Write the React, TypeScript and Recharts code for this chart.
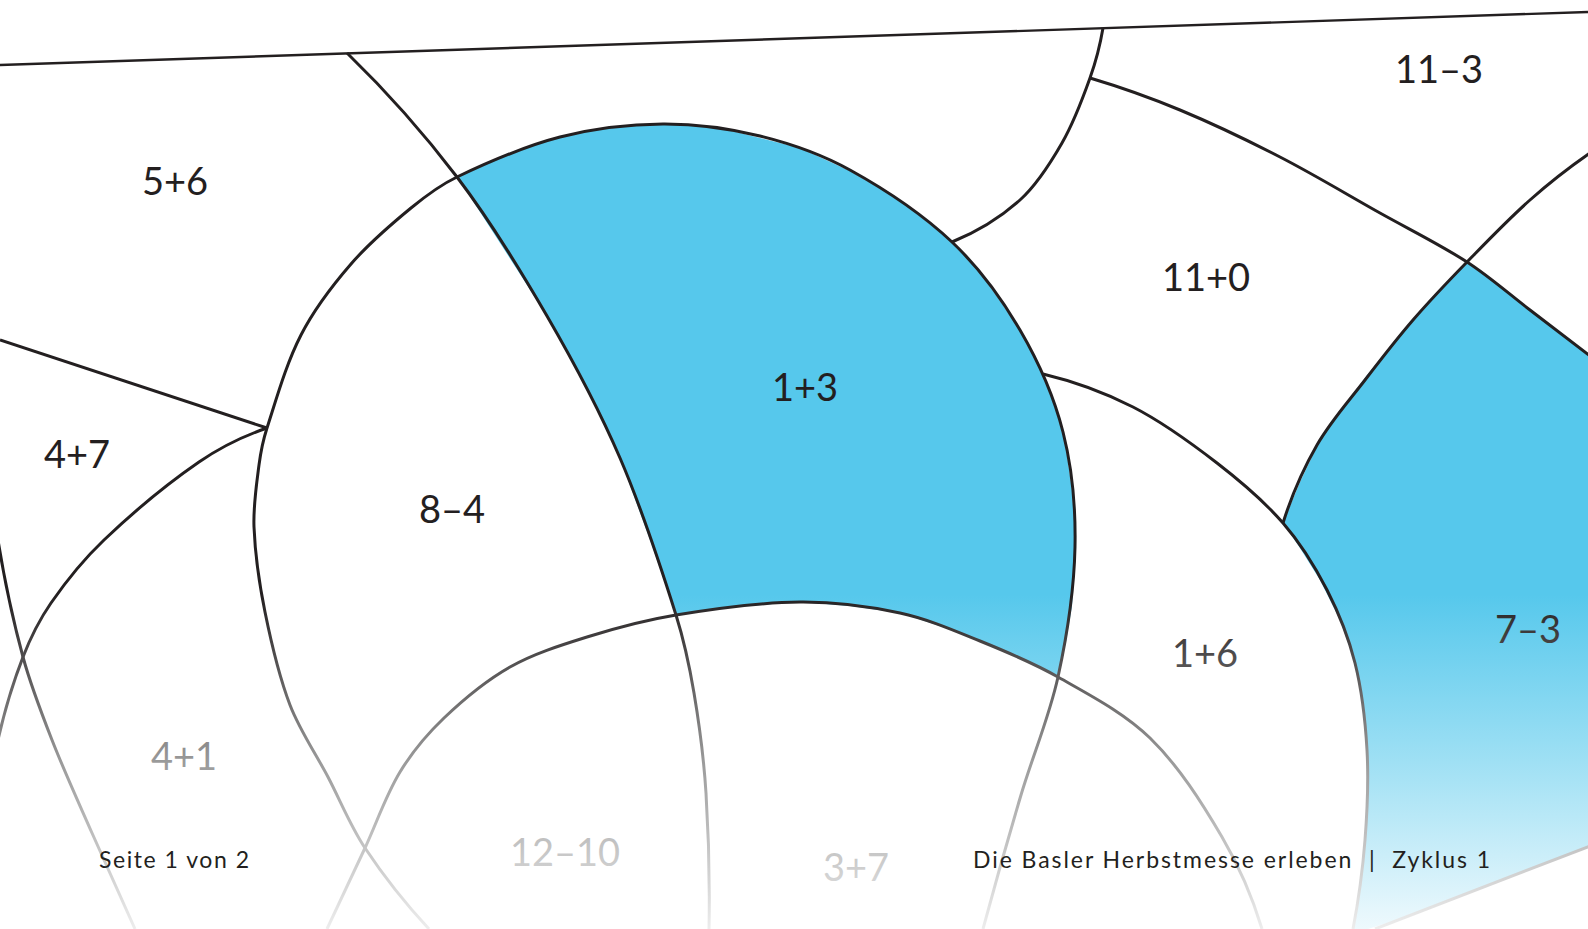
import React from "react";
import { ComposedChart, XAxis, YAxis, Line, Area, Scatter } from "recharts";

const W = 1588;
const H = 929;

const INK = "#231f20";
const BLUE = "#56c8ec";

// outlines in pixel units (x right, y down)
const topEdge = [
  { x: 0, y: 65 },
  { x: 1588, y: 12 },
];
const curveA = [
  { x: 347, y: 53 },
  { x: 457, y: 177 },
  { x: 547, y: 316 },
  { x: 620, y: 458 },
  { x: 676, y: 615 },
  { x: 694, y: 693 },
  { x: 706, y: 793 },
  { x: 709, y: 929 },
];
const bigCircle = [
  { x: 429, y: 929 },
  { x: 365, y: 848 },
  { x: 328, y: 777 },
  { x: 290, y: 705 },
  { x: 265, y: 612 },
  { x: 254, y: 527 },
  { x: 259, y: 465 },
  { x: 267, y: 428 },
  { x: 301, y: 335 },
  { x: 351, y: 264 },
  { x: 411, y: 208 },
  { x: 457, y: 177 },
  { x: 560, y: 137 },
  { x: 663, y: 124 },
  { x: 760, y: 136 },
  { x: 850, y: 170 },
  { x: 952, y: 242 },
  { x: 1020, y: 330 },
  { x: 1063, y: 432 },
  { x: 1075, y: 547 },
  { x: 1058, y: 677 },
  { x: 1021, y: 795 },
  { x: 983, y: 929 },
];
const lowerCircle = [
  { x: 327, y: 929 },
  { x: 365, y: 848 },
  { x: 400, y: 772 },
  { x: 444, y: 718 },
  { x: 510, y: 667 },
  { x: 587, y: 637 },
  { x: 676, y: 615 },
  { x: 800, y: 602 },
  { x: 900, y: 613 },
  { x: 980, y: 641 },
  { x: 1058, y: 677 },
  { x: 1150, y: 738 },
  { x: 1222, y: 837 },
  { x: 1262, y: 929 },
];
const curveB = [
  { x: 1103, y: 28 },
  { x: 1090, y: 78 },
  { x: 1062, y: 143 },
  { x: 1020, y: 200 },
  { x: 952, y: 242 },
];
const curveC = [
  { x: 1090, y: 78 },
  { x: 1180, y: 110 },
  { x: 1280, y: 157 },
  { x: 1380, y: 213 },
  { x: 1467, y: 262 },
  { x: 1530, y: 310 },
  { x: 1590, y: 356 },
];
const curveD = [
  { x: 1590, y: 153 },
  { x: 1530, y: 200 },
  { x: 1467, y: 262 },
  { x: 1413, y: 320 },
  { x: 1365, y: 380 },
  { x: 1317, y: 445 },
  { x: 1283, y: 523 },
];
const curveE = [
  { x: 1043, y: 374 },
  { x: 1133, y: 407 },
  { x: 1217, y: 463 },
  { x: 1283, y: 523 },
  { x: 1327, y: 590 },
  { x: 1355, y: 663 },
  { x: 1367, y: 750 },
  { x: 1365, y: 840 },
  { x: 1353, y: 929 },
];
const edge9 = [
  { x: 1375, y: 929 },
  { x: 1590, y: 846 },
];
const edge11 = [
  { x: 0, y: 340 },
  { x: 267, y: 428 },
];
const curveF = [
  { x: 267, y: 428 },
  { x: 199, y: 462 },
  { x: 104, y: 540 },
  { x: 51, y: 603 },
  { x: 23, y: 657 },
  { x: -2, y: 740 },
];
const curveG = [
  { x: -2, y: 540 },
  { x: 23, y: 657 },
  { x: 52, y: 740 },
  { x: 92, y: 833 },
  { x: 135, y: 929 },
];

// coloured cells: [upper edge, lower edge] at each x
const cell13 = [
  { x: 457, r: [177, 177] },
  { x: 480, r: [166, 212] },
  { x: 500, r: [157, 243] },
  { x: 547, r: [140, 316] },
  { x: 590, r: [131, 395] },
  { x: 620, r: [127, 458] },
  { x: 650, r: [124, 540] },
  { x: 676, r: [124, 615] },
  { x: 720, r: [128, 608] },
  { x: 800, r: [148, 602] },
  { x: 850, r: [171, 606] },
  { x: 900, r: [200, 613] },
  { x: 952, r: [242, 630] },
  { x: 980, r: [272, 641] },
  { x: 1020, r: [330, 658] },
  { x: 1043, r: [374, 668] },
  { x: 1058, r: [416, 677] },
  { x: 1066, r: [448, 642] },
  { x: 1072, r: [490, 606] },
  { x: 1076, r: [547, 547] },
];
const cell73 = [
  { x: 1283, r: [523, 523] },
  { x: 1300, r: [482, 548] },
  { x: 1320, r: [440, 580] },
  { x: 1340, r: [412, 620] },
  { x: 1355, r: [391, 663] },
  { x: 1362, r: [382, 700] },
  { x: 1367, r: [375, 750] },
  { x: 1368, r: [374, 929] },
  { x: 1400, r: [334, 919] },
  { x: 1440, r: [291, 904] },
  { x: 1467, r: [262, 894] },
  { x: 1500, r: [286, 881] },
  { x: 1530, r: [310, 870] },
  { x: 1560, r: [333, 858] },
  { x: 1590, r: [356, 846] },
];
const cell73tail = [
  { x: 1353, r: [929, 929] },
  { x: 1358, r: [895, 929] },
  { x: 1363, r: [860, 929] },
  { x: 1366, r: [820, 929] },
  { x: 1368, r: [760, 929] },
];

const cellLabels = [
  { x: 175, y: 180, t: "5+6" },
  { x: 77, y: 453, t: "4+7" },
  { x: 452, y: 508, t: "8–4" },
  { x: 805, y: 386, t: "1+3" },
  { x: 1206, y: 276, t: "11+0" },
  { x: 1439, y: 68, t: "11–3" },
  { x: 1205, y: 652, t: "1+6" },
  { x: 1528, y: 628, t: "7–3" },
  { x: 184, y: 755, t: "4+1" },
  { x: 565, y: 851, t: "12–10" },
  { x: 856, y: 866, t: "3+7" },
];
const footer = [
  { x: 99, y: 868, t: "Seite 1 von 2", w: 150 },
  { x: 973, y: 868, t: "Die Basler Herbstmesse erleben  |  Zyklus 1", w: 517 },
];

const outlines = [curveA, bigCircle, lowerCircle, curveB, curveC, curveD, curveE, curveF, curveG];
const straight = [edge9, edge11];

const FONT = "Lato, 'Open Sans', sans-serif";

// smooth curve through every point, tangents scaled by chord length
const throughPoints = (ctx: any) => {
  let pts: number[][] = [];
  return {
    areaStart() {},
    areaEnd() {},
    lineStart() {
      pts = [];
    },
    point(x: number, y: number) {
      pts.push([+x, +y]);
    },
    lineEnd() {
      const n = pts.length;
      if (!n) return;
      ctx.moveTo(pts[0][0], pts[0][1]);
      if (n === 1) return;
      if (n === 2) {
        ctx.lineTo(pts[1][0], pts[1][1]);
        return;
      }
      const d: number[] = [];
      for (let i = 0; i < n - 1; i++) {
        d.push(Math.hypot(pts[i + 1][0] - pts[i][0], pts[i + 1][1] - pts[i][1]) || 1e-6);
      }
      const t: number[][] = pts.map((p, i) => {
        if (i === 0 || i === n - 1) return [0, 0];
        const s = d[i - 1] + d[i];
        return [(pts[i + 1][0] - pts[i - 1][0]) / s, (pts[i + 1][1] - pts[i - 1][1]) / s];
      });
      const u0 = [(pts[1][0] - pts[0][0]) / d[0], (pts[1][1] - pts[0][1]) / d[0]];
      t[0] = [2 * u0[0] - t[1][0], 2 * u0[1] - t[1][1]];
      const un = [(pts[n - 1][0] - pts[n - 2][0]) / d[n - 2], (pts[n - 1][1] - pts[n - 2][1]) / d[n - 2]];
      t[n - 1] = [2 * un[0] - t[n - 2][0], 2 * un[1] - t[n - 2][1]];
      for (let i = 0; i < n - 1; i++) {
        const k = d[i] / 3;
        ctx.bezierCurveTo(
          pts[i][0] + t[i][0] * k,
          pts[i][1] + t[i][1] * k,
          pts[i + 1][0] - t[i + 1][0] * k,
          pts[i + 1][1] - t[i + 1][1] * k,
          pts[i + 1][0],
          pts[i + 1][1],
        );
      }
    },
  };
};

const cellLabel = (p: any) => (
  <text
    x={p.cx}
    y={p.cy}
    textAnchor="middle"
    dominantBaseline="central"
    fontFamily={FONT}
    fontWeight={400}
    fontSize={38}
    fill="url(#fadeInk)"
  >
    {p.payload.t}
  </text>
);

const footerLabel = (p: any) => (
  <text
    x={p.cx}
    y={p.cy}
    fontFamily={FONT}
    fontSize={23}
    fill={INK}
    textLength={p.payload.w}
    lengthAdjust="spacing"
    style={{ whiteSpace: "pre" }}
  >
    {p.payload.t}
  </text>
);

export default function App() {
  return (
    <div style={{ position: "absolute", left: 0, top: 0, width: W, height: H, background: "#fff" }}>
      <svg width={0} height={0} style={{ position: "absolute" }}>
        <defs>
          <linearGradient id="fadeInk" gradientUnits="userSpaceOnUse" x1={0} y1={0} x2={0} y2={H}>
            <stop offset={0.64} stopColor={INK} />
            <stop offset={0.82} stopColor="#9a9a9a" />
            <stop offset={1} stopColor="#ededed" />
          </linearGradient>
          <linearGradient id="fadeBlue" gradientUnits="userSpaceOnUse" x1={0} y1={0} x2={0} y2={H}>
            <stop offset={0.64} stopColor={BLUE} />
            <stop offset={0.82} stopColor="#9fe0f4" />
            <stop offset={1} stopColor="#eef9fd" />
          </linearGradient>
        </defs>
      </svg>
      <ComposedChart width={W} height={H} margin={{ top: 0, right: 0, bottom: 0, left: 0 }}>
        <XAxis type="number" dataKey="x" domain={[0, W]} allowDataOverflow hide />
        <YAxis type="number" dataKey="y" domain={[0, H]} allowDataOverflow reversed hide />

        {[cell13, cell73, cell73tail].map((c, i) => (
          <Area
            key={"c" + i}
            data={c}
            dataKey="r"
            type="linear"
            stroke="none"
            fill="url(#fadeBlue)"
            fillOpacity={1}
            dot={false}
            activeDot={false}
            isAnimationActive={false}
          />
        ))}

        <Line
          data={topEdge}
          dataKey="y"
          type="linear"
          stroke={INK}
          strokeWidth={2.4}
          dot={false}
          activeDot={false}
          isAnimationActive={false}
        />
        {straight.map((s, i) => (
          <Line
            key={"s" + i}
            data={s}
            dataKey="y"
            type="linear"
            stroke="url(#fadeInk)"
            strokeWidth={3}
            dot={false}
            activeDot={false}
            isAnimationActive={false}
          />
        ))}
        {outlines.map((o, i) => (
          <Line
            key={"o" + i}
            data={o}
            dataKey="y"
            type={throughPoints as any}
            stroke="url(#fadeInk)"
            strokeWidth={3}
            dot={false}
            activeDot={false}
            isAnimationActive={false}
          />
        ))}

        <Scatter data={cellLabels} dataKey="y" shape={cellLabel} isAnimationActive={false} />
        <Scatter data={footer} dataKey="y" shape={footerLabel} isAnimationActive={false} />
      </ComposedChart>
    </div>
  );
}
